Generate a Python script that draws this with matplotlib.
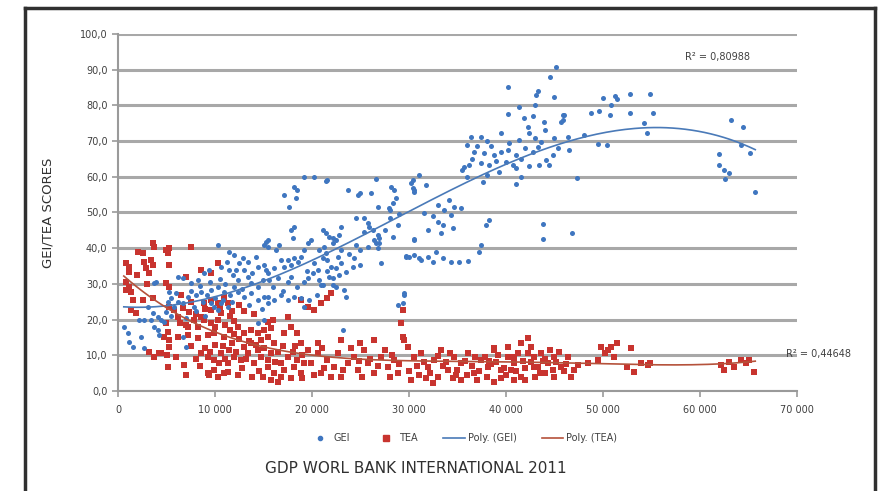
import matplotlib.pyplot as plt
import numpy as np
from matplotlib.ticker import FuncFormatter, MultipleLocator
from matplotlib.lines import Line2D

# GDP in thousand USD, score
gei_points = [
    (0.6,17.9),(1.0,16.2),(1.1,13.7),(1.5,12.3),(2.4,15.1),(2.7,12.0),(2.2,20.0),(3.1,23.5),(3.6,21.8),(2.7,19.9),
    (3.4,19.9),(4.1,20.7),(4.4,19.9),(3.7,17.9),(4.1,17.1),(4.2,15.7),(4.7,19.3),(6.7,15.1),(7.0,12.3),(3.7,30.3),
    (3.9,30.5),(5.3,27.7),(5.5,26.1),(6.2,24.9),(5.8,23.5),(6.7,24.6),(7.2,26.3),(8.0,26.9),(8.6,27.7),(9.6,28.3),
    (10.3,29.1),(10.9,27.7),(11.6,26.9),(12.4,27.7),(13.0,26.3),(13.7,27.5),(14.4,25.5),(15.1,26.3),(15.5,24.6),(6.2,31.9),
    (6.7,31.7),(7.5,30.3),(8.2,31.1),(8.9,33.1),(9.4,33.9),(10.6,34.7),(11.4,33.9),(11.9,32.5),(12.4,31.1),(13.4,31.9),
    (13.7,30.3),(14.4,29.1),(14.9,31.1),(15.5,33.1),(14.4,34.7),(10.3,40.9),(11.4,38.9),(12.0,38.1),(12.9,37.3),(13.4,36.1),
    (12.5,35.9),(15.3,41.7),(15.5,40.3),(9.6,24.6),(9.9,23.5),(10.6,24.6),(11.3,23.5),(10.3,22.7),(14.4,19.0),(15.1,19.9),
    (5.0,22.0),(5.5,21.0),(7.0,20.5),(8.0,22.5),(9.0,21.0),(8.5,29.5),(9.5,30.5),(10.5,31.5),(11.0,30.0),(12.0,29.0),
    (13.0,34.0),(7.8,23.5),
    (5.2,25.0),(6.0,27.5),(7.5,28.0),(8.8,25.0),(9.2,27.0),(10.0,26.0),(10.8,25.5),(11.8,25.0),(12.8,28.5),(13.5,24.0),
    (14.8,23.0),(11.2,36.0),(12.2,34.0),(13.8,33.0),(14.2,37.5),(16.0,29.0),(17.0,28.0),(18.5,29.0),(19.5,33.5),(20.5,27.0),
    (21.5,33.5),(22.8,32.5),(23.8,38.5),(24.5,41.0),(27.5,45.0),(28.0,48.5),(29.0,49.5),(32.5,49.0),(33.0,52.0),
    (15.1,35.3),(15.3,33.9),(15.6,31.1),(16.5,31.7),(17.5,30.5),(17.8,31.9),(16.8,36.7),(16.1,34.5),(15.5,26.3),(16.1,25.5),
    (16.8,26.9),(17.5,25.5),(18.1,26.3),(18.9,26.1),(19.2,23.5),(19.7,25.5),(15.5,42.3),(15.1,40.9),(16.6,40.9),(16.3,39.5),
    (17.1,34.7),(17.5,36.7),(17.8,35.3),(18.1,37.3),(18.6,36.1),(18.9,37.5),(19.2,39.5),(19.6,41.5),(19.9,42.3),(18.0,42.9),
    (17.8,45.1),(18.1,45.9),(17.1,54.9),(18.1,57.1),(18.5,56.3),(18.4,54.1),(17.6,51.5),(19.2,59.9),(20.2,59.9),(21.4,58.8),
    (21.6,59.1),(20.2,35.9),(20.6,33.9),(20.1,33.1),(19.6,31.7),(20.7,31.1),(20.9,29.7),(22.2,29.7),(19.2,30.5),(21.1,29.7),
    (20.7,39.5),(21.4,38.7),(21.6,36.7),(21.1,37.3),(22.0,34.7),(21.8,31.9),(22.2,31.7),(22.5,29.1),(23.3,28.3),(23.5,26.3),
    (21.1,45.1),(21.4,44.3),(21.8,43.1),(22.2,42.9),(21.2,40.3),(23.0,45.9),(22.8,43.7),(22.5,42.3),(22.2,41.5),(23.0,39.5),
    (22.7,37.5),(22.5,34.5),(23.0,35.9),(23.5,33.3),(24.2,34.7),(25.0,35.3),(24.3,37.3),(25.0,39.5),(25.8,40.3),(26.4,42.3),
    (26.9,41.5),(23.2,17.1),(23.7,56.3),(24.7,54.9),(25.0,55.5),(26.1,55.5),(26.6,59.4),(28.1,57.1),(28.5,56.3),(28.7,54.1),
    (28.4,52.7),(27.9,51.3),(28.0,50.7),(26.8,51.5),(24.5,48.5),(25.4,48.5),(25.8,47.1),(25.9,45.9),(25.4,44.5),(26.3,45.1),
    (26.8,43.7),(26.9,42.9),(26.6,41.5),(26.8,40.1),(28.4,43.1),(28.9,46.5),(30.5,42.3),(29.7,37.5),(30.0,37.5),(27.1,35.9),
    (31.0,37.3),(29.5,26.9),(29.5,27.4),(29.4,24.6),(28.9,24.1),(30.2,58.3),(30.4,56.9),(30.5,55.7),
    (31.0,60.5),(30.4,59.1),(31.8,57.7),(30.5,56.3),(34.1,53.5),(34.6,51.5),(35.4,51.3),(33.6,50.7),(31.5,49.9),(34.3,49.3),
    (33.0,47.3),(33.5,46.5),(32.0,45.1),(34.5,45.7),(33.3,44.3),(38.2,47.9),(37.9,46.5),(37.4,40.9),(37.2,38.9),(43.8,46.8),
    (43.8,42.6),(46.8,44.3),(30.5,42.6),(29.7,37.8),(30.5,38.1),(31.2,36.7),(32.0,37.5),(32.8,38.9),(33.5,37.2),(34.3,36.1),
    (35.2,36.1),(36.1,36.4),(32.5,36.1),(35.7,62.7),(36.2,63.3),(37.4,63.9),(38.2,63.3),(39.3,61.3),(40.7,63.3),(41.0,62.5),
    (42.4,63.0),(43.4,63.3),(44.1,64.7),(44.4,63.3),(41.5,59.9),(41.0,58.0),(37.6,58.5),(47.3,59.7),(36.7,66.9),(37.7,66.7),
    (38.8,66.1),(40.2,67.5),(41.0,66.1),(42.8,66.9),(43.3,68.3),(45.4,68.0),(46.5,67.5),(36.4,71.2),(37.4,71.2),(41.3,70.3),
    (40.3,69.5),(43.6,69.7),(45.0,70.9),(46.4,71.2),(39.5,72.3),(42.4,72.3),(42.3,73.9),(43.9,75.3),(46.0,77.3),(45.7,75.3),
    (41.9,76.5),(42.8,77.0),(40.2,77.6),(41.3,79.6),(43.0,80.1),(43.1,83.0),(43.3,84.0),(45.0,82.4),(40.2,85.2),(44.5,88.0),
    (45.2,90.8),(45.9,77.3),(45.9,76.0),(48.0,71.7),(49.5,69.2),(50.4,68.9),(48.8,77.9),(49.6,78.4),(50.0,82.0),(50.7,77.3),
    (50.8,80.0),(51.2,82.6),(51.4,81.8),(52.8,83.2),(52.8,77.9),(54.2,75.0),(54.5,72.3),(54.8,83.2),(55.2,77.9),(62.0,66.4),
    (62.0,63.3),(62.5,61.9),(63.0,61.0),(62.6,59.4),(63.2,75.9),(64.4,73.9),(64.2,69.0),(65.2,66.7),(65.7,55.7),(38.5,68.5),
    (39.0,64.5),(36.0,60.0),(35.5,62.0),(38.0,60.5),
    (36.0,69.0),(37.0,68.5),(38.0,70.0),(39.5,67.0),(40.0,64.0),(41.5,65.0),(42.0,68.0),(43.0,71.0),(44.0,73.0),(44.8,66.0),
    (36.5,65.0),
]

tea_points = [
    (3.6,41.5),(3.7,40.3),(2.1,38.9),(2.6,38.7),(5.3,40.1),(5.2,38.7),(7.5,40.3),(4.9,39.5),(0.8,35.9),(1.1,34.7),
    (1.1,33.3),(2.7,36.1),(2.9,34.5),(3.4,36.7),(3.6,35.3),(5.3,35.3),(3.2,33.1),(0.8,30.5),(1.1,29.1),(1.3,27.7),
    (4.9,30.3),(5.3,29.1),(7.0,31.9),(10.3,35.9),(9.6,33.1),(8.6,33.9),(0.8,28.3),(1.6,25.5),(2.6,25.5),(3.6,26.1),
    (1.3,22.7),(1.9,21.8),(5.3,23.5),(5.8,22.7),(6.7,23.2),(7.3,22.1),(6.2,20.7),(6.4,19.0),(7.2,17.9),(7.8,19.9),
    (8.2,17.9),(8.6,20.7),(8.9,24.6),(9.6,25.5),(10.3,24.6),(10.9,26.3),(11.3,24.6),(9.6,22.7),(10.6,21.8),(8.9,19.9),
    (9.6,19.0),(10.3,19.9),(4.9,19.0),(5.2,16.5),(4.7,15.1),(5.3,14.3),(6.2,15.1),(7.2,15.7),(8.2,14.8),(9.3,15.7),
    (9.9,16.2),(10.9,15.1),(11.6,17.1),(12.4,17.9),(13.0,16.2),(13.7,17.1),(14.4,16.2),(15.1,17.1),(3.2,10.9),(3.7,9.5),
    (4.4,10.6),(5.1,10.1),(4.2,10.6),(5.2,6.7),(6.8,7.3),(7.0,4.5),(8.6,10.6),(9.3,9.5),(9.9,8.7),(10.6,10.6),
    (11.3,7.8),(12.0,9.5),(12.7,8.7),(13.4,10.6),(14.0,7.8),(14.7,9.5),(15.5,8.7),(9.3,5.0),(10.3,3.9),(11.3,5.3),
    (12.4,4.5),(9.4,4.5),(9.9,5.9),(10.4,7.8),(10.9,5.0),(11.4,11.5),(13.0,12.3),(13.7,13.4),(14.4,11.5),(15.1,12.0),
    (5.3,12.3),(11.5,21.0),(12.0,19.5),(12.5,14.5),(13.5,14.0),(7.5,12.5),(8.0,9.0),(6.0,9.5),
    (9.0,12.0),(10.0,13.0),(10.8,12.5),(11.8,13.5),(12.2,11.0),(13.2,9.0),(14.2,13.0),(15.8,10.5),(16.2,8.0),(11.0,9.0),
    (9.5,11.0),(8.5,7.0),(12.8,6.5),(14.5,5.5),(13.8,3.8),(16.8,4.0),(17.8,3.5),(18.2,12.5),(19.0,10.0),(10.0,18.0),
    (11.0,18.5),(12.0,16.0),(7.0,18.5),(8.0,21.5),(9.0,23.0),(10.5,23.5),(11.8,22.5),(6.5,27.0),(7.5,25.0),(3.0,30.0),
    (2.0,32.5),
    (15.5,6.7),(15.8,3.1),(16.1,5.0),(16.8,7.8),(17.1,5.9),(17.5,9.5),(18.1,6.7),(18.5,8.7),(18.9,5.0),(19.2,7.8),
    (19.6,11.5),(14.7,14.3),(15.5,15.1),(16.1,13.4),(17.1,16.2),(17.5,20.7),(17.8,17.9),(18.5,16.2),(18.9,13.4),(15.5,19.3),
    (15.8,17.6),(20.2,22.7),(20.9,24.6),(21.6,26.1),(22.0,27.5),(18.9,25.5),(19.6,23.5),(19.9,7.8),(20.6,10.6),(20.9,5.0),
    (21.6,8.7),(22.3,6.7),(22.7,10.6),(23.0,3.9),(23.7,7.8),(24.3,9.5),(24.7,5.9),(25.4,11.5),(25.8,7.8),(26.4,5.0),
    (27.1,9.5),(27.8,6.7),(28.5,8.7),(28.9,5.0),(20.6,13.4),(23.0,14.3),(25.0,13.4),(26.4,14.3),(29.4,22.7),(29.2,19.0),
    (29.4,15.1),(29.5,14.3),(16.5,11.0),(17.0,12.5),(15.0,4.0),(16.5,2.5),(18.0,11.0),(21.0,12.0),(22.0,4.0),(24.0,12.0),
    (27.5,11.5),(26.0,9.0),(28.0,4.0),(19.0,3.5),(16.0,20.0),(14.0,21.5),(13.0,22.5),(12.5,24.0),
    (28.2,10.0),(26.8,7.0),(25.2,4.0),(23.2,6.0),(21.2,6.5),(20.2,4.5),(29.0,7.5),(24.8,8.5),
    (29.9,12.3),(30.5,9.5),(31.2,10.6),(32.0,6.7),(32.6,8.7),(33.3,11.5),(34.0,5.9),(34.6,9.5),(35.4,7.8),(36.1,10.6),
    (36.7,5.0),(37.4,8.7),(38.1,6.7),(38.8,11.5),(39.5,5.9),(40.2,9.5),(40.8,7.8),(41.5,3.9),(42.3,10.6),(42.9,6.7),
    (30.2,3.1),(32.5,2.2),(35.4,3.1),(38.8,2.5),(38.8,12.0),(40.2,12.3),(40.8,9.5),(41.5,13.4),(42.3,14.8),(42.6,12.3),
    (42.9,9.5),(43.3,6.7),(43.6,10.6),(44.3,7.8),(44.9,9.5),(45.7,6.7),(46.4,9.5),(46.7,3.9),(47.4,7.3),(48.5,7.8),
    (49.5,8.7),(49.8,12.3),(50.2,10.6),(50.5,11.5),(50.8,12.3),(51.4,13.4),(51.1,9.5),(52.9,12.0),(52.5,6.7),(53.2,5.3),
    (53.9,7.8),(54.6,7.3),(54.9,7.8),(62.2,7.3),(62.5,5.9),(63.0,8.1),(63.5,6.7),(64.2,8.7),(64.7,7.8),(65.1,8.7),
    (65.6,5.3),(31.0,4.5),(33.0,4.0),(34.5,3.5),(36.0,4.5),(37.0,3.0),(38.0,4.0),(39.0,8.0),(40.0,4.5),(41.0,5.5),
    (42.0,3.0),(43.0,4.0),(44.0,5.0),(45.0,4.0),(46.0,5.5),(44.5,11.5),(30.8,7.0),(33.8,8.0),(35.0,6.0),(37.8,9.5),
    (39.8,6.5),(41.8,8.5),(43.8,8.5),(45.2,8.0),(47.0,6.0),
    (30.0,5.5),(31.5,8.0),(32.2,5.0),(33.5,7.0),(34.2,10.5),(35.8,8.5),(36.5,7.0),(37.2,5.5),(38.5,7.5),(39.2,10.0),
    (40.5,6.0),(41.2,10.5),(42.0,6.5),(42.6,8.0),(43.5,5.0),(44.0,9.0),(44.8,6.0),(45.5,11.0),(46.2,7.5),(39.5,3.5),
    (40.8,3.0),(36.8,9.5),(34.8,4.5),(33.0,9.8),(31.8,3.5),(38.2,8.5),
]

r2_gei = "0,80988"
r2_tea = "0,44648"

gei_gdp, gei_score = np.array(gei_points).T
tea_gdp, tea_score = np.array(tea_points).T

c_gei = '#3f76c0'
c_tea = '#c8342f'

fig = plt.figure(figsize=(8.87, 4.91), dpi=100)
ax = fig.add_axes([0.133, 0.2037, 0.7655, 0.7271])

ax.scatter(tea_gdp, tea_score, marker='s', s=24, color=c_tea, zorder=3, linewidths=0)
ax.scatter(gei_gdp, gei_score, marker='o', s=13, color=c_gei, zorder=4, linewidths=0)

# polynomial trend lines
xs = np.linspace(0.6, 65.7, 200)
pg = np.polyfit(gei_gdp, gei_score, 3)
pt = np.polyfit(tea_gdp, tea_score, 4)
ax.plot(xs, np.polyval(pg, xs), color='#4a7ab8', lw=1.2, zorder=5)
ax.plot(xs, np.polyval(pt, xs), color='#b5523b', lw=1.2, zorder=5)

ax.set_xlim(0, 70)
ax.set_ylim(0, 100)
ax.yaxis.set_major_locator(MultipleLocator(10))
ax.xaxis.set_major_locator(MultipleLocator(10))
ax.yaxis.set_major_formatter(FuncFormatter(lambda v, p: f"{v:.1f}".replace('.', ',')))
ax.xaxis.set_major_formatter(FuncFormatter(lambda v, p: "0" if v == 0 else f"{int(v*1000):,}".replace(',', ' ')))
ax.grid(axis='y', color='#a8a8a8', lw=2.2, zorder=0)
ax.set_axisbelow(True)
for s in ['top', 'right']:
    ax.spines[s].set_visible(False)
for s in ['left', 'bottom']:
    ax.spines[s].set_color('#9a9a9a')
    ax.spines[s].set_linewidth(1.5)
ax.tick_params(colors='#9a9a9a', labelcolor='#404040', labelsize=7, length=4, width=1.2)
ax.tick_params(axis='x', pad=6)

ax.set_ylabel('GEI/TEA SCORES', fontsize=9.5, color='#303030', labelpad=18)
fig.text(0.469, 0.036, 'GDP WORL BANK INTERNATIONAL 2011', ha='center', fontsize=11, color='#303030')

ax.text(61.8, 93.6, 'R² = ' + r2_gei, fontsize=7, color='#404040', ha='center', va='center')
ax.text(68.9, 10.3, 'R² = ' + r2_tea, fontsize=7, color='#404040', ha='left', va='center', clip_on=False)

handles = [
    Line2D([], [], marker='o', ls='', color=c_gei, markersize=3),
    Line2D([], [], marker='s', ls='', color=c_tea, markersize=4),
    Line2D([], [], color='#4a7ab8', lw=1.2),
    Line2D([], [], color='#b5523b', lw=1.2),
]
fig.legend(handles, ['GEI', 'TEA', 'Poly. (GEI)', 'Poly. (TEA)'], loc='center',
           bbox_to_anchor=(0.522, 0.108), ncol=4, frameon=False, fontsize=7,
           handlelength=2.2, handletextpad=0.3, columnspacing=2.6, labelcolor='#404040')

# outer frame
frame = dict(color='#303030', lw=2.5)
fig.add_artist(Line2D([0.028, 0.028], [0, 0.983], **frame))
fig.add_artist(Line2D([0.028, 0.986], [0.983, 0.983], **frame))
fig.add_artist(Line2D([0.986, 0.986], [0, 0.983], **frame))

fig.savefig('out.png', dpi=100)
